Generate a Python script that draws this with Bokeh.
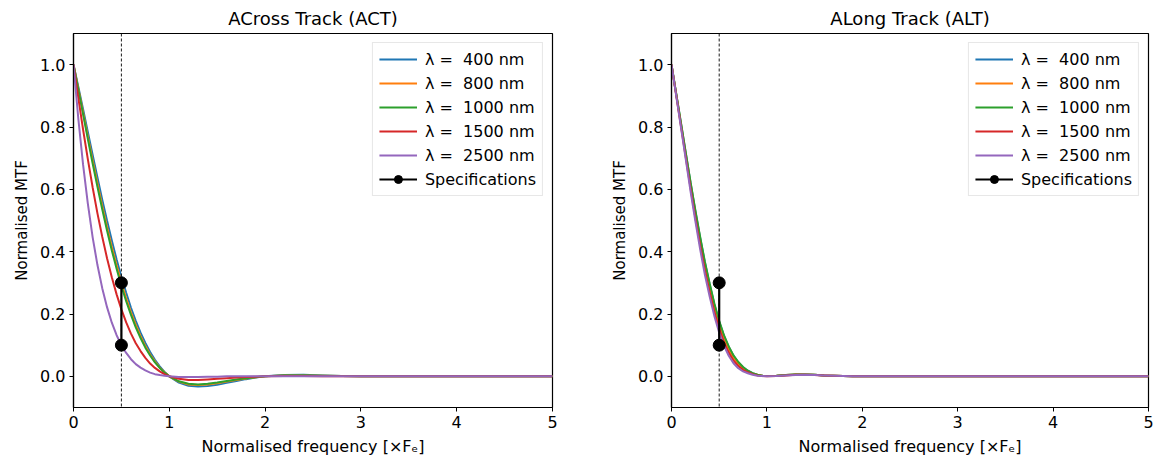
from bokeh.plotting import figure
from bokeh.layouts import row
from bokeh.models import Range1d, FixedTicker, NumeralTickFormatter, Span, Legend, LegendItem, ColumnDataSource
from bokeh.embed import file_html
from bokeh.resources import INLINE

# ---------------- data ----------------
freq = [0.0, 0.05, 0.1, 0.15, 0.2, 0.25, 0.3, 0.35, 0.4, 0.45, 0.5, 0.55, 0.6, 0.65, 0.7,
        0.75, 0.8, 0.85, 0.9, 0.95, 1.0, 1.1, 1.2, 1.3, 1.4, 1.5, 1.6, 1.7, 1.8, 1.9, 2.0,
        2.2, 2.4, 2.6, 2.8, 3.0, 3.5, 4.0, 4.5, 5.0]

wavelength_labels = ["λ =  400 nm", "λ =  800 nm", "λ =  1000 nm", "λ =  1500 nm", "λ =  2500 nm"]

act_400 = [1.0, 0.929, 0.857, 0.783, 0.710, 0.638, 0.567, 0.500, 0.436, 0.375, 0.319, 0.268, 0.220, 0.178, 0.140,
           0.107, 0.078, 0.053, 0.032, 0.014, 0.0, -0.020, -0.030, -0.033, -0.031, -0.027, -0.021, -0.015, -0.009, -0.004, 0.0,
           0.004, 0.005, 0.003, 0.001, 0.0, 0.0, 0.0, 0.0, 0.0]
act_800 = [1.0, 0.924, 0.847, 0.769, 0.693, 0.619, 0.547, 0.479, 0.415, 0.356, 0.301, 0.250, 0.205, 0.165, 0.129,
           0.097, 0.070, 0.048, 0.028, 0.013, 0.0, -0.017, -0.026, -0.028, -0.026, -0.022, -0.017, -0.012, -0.007, -0.003, 0.0,
           0.003, 0.003, 0.002, 0.001, 0.0, 0.0, 0.0, 0.0, 0.0]
act_1000 = [1.0, 0.921, 0.841, 0.761, 0.683, 0.608, 0.536, 0.468, 0.404, 0.345, 0.290, 0.241, 0.197, 0.157, 0.123,
            0.092, 0.067, 0.045, 0.027, 0.012, 0.0, -0.016, -0.024, -0.026, -0.024, -0.020, -0.015, -0.010, -0.006, -0.003, 0.0,
            0.003, 0.003, 0.002, 0.001, 0.0, 0.0, 0.0, 0.0, 0.0]
act_1500 = [1.0, 0.894, 0.792, 0.696, 0.606, 0.523, 0.448, 0.379, 0.318, 0.263, 0.215, 0.173, 0.137, 0.106, 0.081,
            0.059, 0.041, 0.027, 0.016, 0.007, 0.0, -0.008, -0.012, -0.012, -0.010, -0.008, -0.006, -0.004, -0.002, -0.001, 0.0,
            0.001, 0.001, 0.0, 0.0, 0.0, 0.0, 0.0, 0.0, 0.0]
act_2500 = [1.0, 0.828, 0.679, 0.553, 0.446, 0.357, 0.283, 0.222, 0.172, 0.132, 0.100, 0.075, 0.055, 0.039, 0.028,
            0.019, 0.012, 0.007, 0.004, 0.002, 0.0, -0.002, -0.002, -0.002, -0.001, -0.001, 0.0, 0.0, 0.0, 0.0, 0.0,
            0.0, 0.0, 0.0, 0.0, 0.0, 0.0, 0.0, 0.0, 0.0]

alt_400 = [1.0, 0.905, 0.810, 0.715, 0.620, 0.530, 0.445, 0.365, 0.295, 0.230, 0.175, 0.130, 0.094, 0.066, 0.045,
           0.029, 0.018, 0.010, 0.005, 0.002, 0.001, 0.002, 0.004, 0.006, 0.006, 0.005, 0.003, 0.002, 0.001, 0.0, 0.0,
           0.0, 0.0, 0.0, 0.0, 0.0, 0.0, 0.0, 0.0, 0.0]
alt_800 = [1.0, 0.903, 0.806, 0.709, 0.612, 0.520, 0.434, 0.354, 0.284, 0.219, 0.165, 0.121, 0.086, 0.060, 0.040,
           0.026, 0.016, 0.009, 0.005, 0.002, 0.001, 0.002, 0.004, 0.006, 0.006, 0.005, 0.003, 0.002, 0.001, 0.0, 0.0,
           0.0, 0.0, 0.0, 0.0, 0.0, 0.0, 0.0, 0.0, 0.0]
alt_1000 = [1.0, 0.906, 0.812, 0.717, 0.623, 0.533, 0.448, 0.368, 0.298, 0.233, 0.178, 0.132, 0.096, 0.067, 0.046,
            0.030, 0.018, 0.010, 0.005, 0.002, 0.001, 0.002, 0.004, 0.006, 0.006, 0.005, 0.003, 0.002, 0.001, 0.0, 0.0,
            0.0, 0.0, 0.0, 0.0, 0.0, 0.0, 0.0, 0.0, 0.0]
alt_1500 = [1.0, 0.901, 0.801, 0.702, 0.603, 0.509, 0.421, 0.340, 0.270, 0.206, 0.153, 0.110, 0.076, 0.051, 0.033,
            0.021, 0.013, 0.007, 0.003, 0.001, 0.0, 0.001, 0.003, 0.005, 0.005, 0.004, 0.003, 0.002, 0.001, 0.0, 0.0,
            0.0, 0.0, 0.0, 0.0, 0.0, 0.0, 0.0, 0.0, 0.0]
alt_2500 = [1.0, 0.899, 0.797, 0.695, 0.593, 0.498, 0.408, 0.326, 0.256, 0.193, 0.140, 0.098, 0.066, 0.042, 0.026,
            0.016, 0.010, 0.005, 0.002, 0.001, 0.0, 0.001, 0.003, 0.004, 0.005, 0.004, 0.003, 0.002, 0.001, 0.0, 0.0,
            0.0, 0.0, 0.0, 0.0, 0.0, 0.0, 0.0, 0.0, 0.0]

spec_freq = [0.5, 0.5]
spec_mtf = [0.1, 0.3]

x_ticks = [0, 1, 2, 3, 4, 5]
y_ticks = [0.0, 0.2, 0.4, 0.6, 0.8, 1.0]

colors = ["#1f77b4", "#ff7f0e", "#2ca02c", "#d62728", "#9467bd"]
FONT = "DejaVu Sans"


def make_fig(title, series, width, border_left, border_right):
    p = figure(width=width, height=465, output_backend="svg", toolbar_location=None,
               x_range=Range1d(0, 5), y_range=Range1d(-0.1, 1.1), title=title,
               min_border_left=border_left, min_border_right=border_right,
               min_border_top=33, min_border_bottom=58)
    p.background_fill_color = "white"
    p.border_fill_color = "white"
    p.outline_line_color = "black"
    p.outline_line_width = 1.2
    p.xgrid.visible = False
    p.ygrid.visible = False

    p.title.align = "center"
    p.title.text_font = FONT
    p.title.text_font_size = "18px"
    p.title.text_font_style = "normal"
    p.title.text_color = "black"

    for ax in (p.xaxis[0], p.yaxis[0]):
        ax.axis_line_color = "black"
        ax.axis_line_width = 1.2
        ax.major_tick_line_color = "black"
        ax.major_tick_out = 4
        ax.major_tick_in = 0
        ax.minor_tick_line_color = None
        ax.major_label_text_font = FONT
        ax.major_label_text_font_size = "16px"
        ax.major_label_text_color = "black"
        ax.axis_label_text_font = FONT
        ax.axis_label_text_font_style = "normal"
        ax.axis_label_text_color = "black"
        ax.major_label_standoff = 4
        ax.axis_label_standoff = 6

    p.xaxis.ticker = FixedTicker(ticks=x_ticks)
    p.yaxis.ticker = FixedTicker(ticks=y_ticks)
    p.xaxis.formatter = NumeralTickFormatter(format="0")
    p.yaxis.formatter = NumeralTickFormatter(format="0.0")
    p.xaxis.axis_label = "Normalised frequency [×Fₑ]"
    p.yaxis.axis_label = "Normalised MTF"
    p.xaxis.axis_label_text_font_size = "16px"
    p.yaxis.axis_label_text_font_size = "15px"

    p.add_layout(Span(location=spec_freq[0], dimension="height", line_color="black",
                      line_width=0.9, line_dash="3 2"))

    items = []
    for vals, col, lab in zip(series, colors, wavelength_labels):
        r = p.line(freq, vals, line_color=col, line_width=2.0)
        items.append(LegendItem(label=lab, renderers=[r]))

    src = ColumnDataSource(dict(x=spec_freq, y=spec_mtf))
    rl = p.line("x", "y", source=src, line_color="black", line_width=2.2)
    rs = p.scatter("x", "y", source=src, size=12, marker="circle", fill_color="black", line_color="black")
    items.append(LegendItem(label="Specifications", renderers=[rl, rs]))

    leg = Legend(items=items, location="top_right")
    leg.margin = 9
    leg.padding = 6
    leg.spacing = 4
    leg.glyph_width = 38
    leg.glyph_height = 20
    leg.label_height = 20
    leg.label_standoff = 8
    leg.label_text_font = FONT
    leg.label_text_font_size = "16px"
    leg.label_text_color = "black"
    leg.border_line_color = "#d0d0d0"
    leg.border_line_width = 1
    leg.background_fill_color = "white"
    leg.background_fill_alpha = 0.8
    p.add_layout(leg)
    return p


p1 = make_fig("ACross Track (ACT)", [act_400, act_800, act_1000, act_1500, act_2500], 600, 73, 48)
p2 = make_fig("ALong Track (ALT)", [alt_400, alt_800, alt_1000, alt_1500, alt_2500], 554, 71, 6)

layout = row(p1, p2)
open("out.html", "w").write(file_html(layout, INLINE))
